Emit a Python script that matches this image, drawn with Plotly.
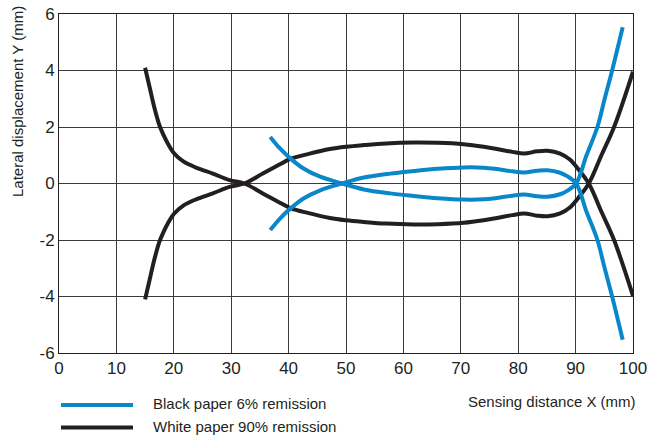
import plotly.graph_objects as go

# ---- data ----
series_names = ["Black paper 6% remission", "White paper 90% remission"]
series_colors = ["#0a87c9", "#231f20"]

white_x = [15, 15.8, 16.6, 17.5, 18.2, 19.0, 20.0, 21.6, 23.9, 26.8, 29.7, 32.3, 35.5, 38.4,
           40.3, 43.5, 47.2, 50.0, 53.1, 57.0, 61.8, 66.0, 70.5, 74.0, 76.3, 79.0, 81.0,
           83.3, 85.1, 87.3, 89.0, 90.5, 92.3, 94.5, 96.7, 100]
white_upper_y = [4.1, 3.4, 2.7, 2.06, 1.72, 1.4, 1.08, 0.79, 0.56, 0.35, 0.12, 0.0, -0.35, -0.67,
                 -0.87, -1.05, -1.22, -1.30, -1.36, -1.42, -1.45, -1.44, -1.39, -1.30, -1.22, -1.12, -1.06,
                 -1.14, -1.16, -1.06, -0.85, -0.50, 0.0, 1.0, 2.0, 3.96]
white_lower_y = [-4.1, -3.4, -2.7, -2.06, -1.72, -1.4, -1.08, -0.79, -0.56, -0.35, -0.12, 0.0, 0.35, 0.67,
                 0.87, 1.05, 1.22, 1.30, 1.36, 1.42, 1.45, 1.44, 1.39, 1.30, 1.22, 1.12, 1.06,
                 1.14, 1.16, 1.06, 0.85, 0.50, 0.0, -1.0, -2.0, -3.98]

black_x = [36.8, 38.5, 40.3, 42.6, 45.5, 49.3, 53.1, 57.7, 61.8, 66.0, 70.5, 74.0, 76.3,
           79.0, 81.0, 83.3, 85.1, 87.3, 88.6, 90.1, 91.9, 93.8, 95.0, 96.3, 98.2]
black_upper_y = [1.65, 1.24, 0.89, 0.53, 0.24, 0.0, -0.21, -0.35, -0.44, -0.52, -0.57, -0.56, -0.51,
                 -0.43, -0.39, -0.45, -0.47, -0.38, -0.25, 0.0, 1.0, 2.0, 2.95, 3.95, 5.53]
black_lower_y = [-1.65, -1.24, -0.89, -0.53, -0.24, 0.0, 0.21, 0.35, 0.44, 0.52, 0.57, 0.56, 0.51,
                 0.43, 0.39, 0.45, 0.47, 0.38, 0.25, 0.0, -1.0, -2.0, -2.95, -3.95, -5.53]

x_ticks = [0, 10, 20, 30, 40, 50, 60, 70, 80, 90, 100]
y_ticks = [-6, -4, -2, 0, 2, 4, 6]
x_title = "Sensing distance X (mm)"
y_title = "Lateral displacement Y (mm)"

FONT = "Liberation Sans, Arial, sans-serif"
TXT = "#231f20"

fig = go.Figure()
for xs, ys in [(white_x, white_upper_y), (white_x, white_lower_y)]:
    fig.add_trace(go.Scatter(x=xs, y=ys, mode="lines", name=series_names[1], showlegend=False,
                             line=dict(color=series_colors[1], width=4, shape="spline", smoothing=1.0)))
for xs, ys in [(black_x, black_upper_y), (black_x, black_lower_y)]:
    fig.add_trace(go.Scatter(x=xs, y=ys, mode="lines", name=series_names[0], showlegend=False,
                             line=dict(color=series_colors[0], width=4, shape="spline", smoothing=1.0)))

L, R, T, B = 59, 19, 14, 88
W, H = 652, 441
pw, ph = W - L - R, H - T - B

def px_x(p):
    return (p - L) / pw

def px_y(p):
    return (H - B - p) / ph

# legend (manual, to match the reference layout)
for i, (name, col) in enumerate(zip(series_names, series_colors)):
    yl = [405, 427.5][i]
    fig.add_shape(type="line", xref="paper", yref="paper",
                  x0=px_x(61), x1=px_x(133), y0=px_y(yl), y1=px_y(yl),
                  line=dict(color=col, width=4))
    fig.add_annotation(text=name, xref="paper", yref="paper", x=px_x(151), y=px_y(yl - 1.5),
                       xanchor="left", yanchor="middle", showarrow=False,
                       font=dict(family=FONT, size=15, color=TXT))

fig.add_annotation(text=x_title, xref="paper", yref="paper", x=px_x(638), y=px_y(401),
                   xanchor="right", yanchor="middle", showarrow=False,
                   font=dict(family=FONT, size=15, color=TXT))
fig.add_annotation(text=y_title, xref="paper", yref="paper", x=px_x(17), y=px_y(102),
                   xanchor="center", yanchor="middle", showarrow=False, textangle=-90,
                   font=dict(family=FONT, size=15, color=TXT))

fig.update_layout(
    width=W, height=H,
    margin=dict(l=L, r=R, t=T, b=B, autoexpand=False),
    paper_bgcolor="white", plot_bgcolor="white",
    font=dict(family=FONT, color=TXT),
    showlegend=False,
)
fig.update_xaxes(range=[0, 100], tickvals=x_ticks, ticktext=[str(v) for v in x_ticks],
                 showgrid=True, gridcolor="#3a3a3a", gridwidth=1, zeroline=False,
                 showline=True, mirror=True, linecolor=TXT, linewidth=1, automargin=False,
                 ticks="", tickfont=dict(family=FONT, size=17, color=TXT))
fig.update_yaxes(range=[-6, 6], tickvals=y_ticks, ticktext=[str(v) for v in y_ticks],
                 showgrid=True, gridcolor="#3a3a3a", gridwidth=1, zeroline=False,
                 showline=True, mirror=True, linecolor=TXT, linewidth=1, automargin=False,
                 ticks="", tickfont=dict(family=FONT, size=17, color=TXT))

fig.write_html("out.html", config={"displayModeBar": False},
               post_script="document.body.style.margin='0';document.body.style.overflow='hidden';")
